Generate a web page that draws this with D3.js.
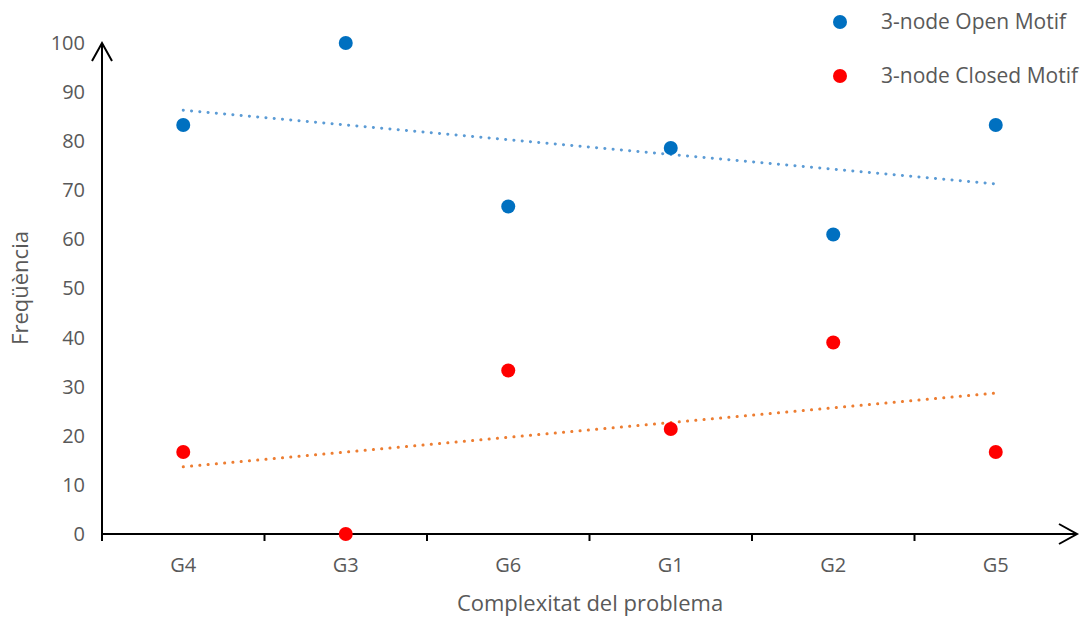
<!DOCTYPE html>
<html>
<head>
<meta charset="utf-8">
<script src="https://cdn.jsdelivr.net/npm/d3@7"></script>
<style>
  body { margin: 0; background: #fff; }
  text { font-family: "Open Sans", "Noto Sans", sans-serif; fill: #595959; }
</style>
</head>
<body>
<svg width="1085" height="619"></svg>
<script>
let categories = ['G4', 'G3', 'G6', 'G1', 'G2', 'G5'];
let openValues = [83.3, 100, 66.7, 78.6, 61, 83.3];
let closedValues = [16.7, 0, 33.3, 21.4, 39, 16.7];
let yTicks = [0, 10, 20, 30, 40, 50, 60, 70, 80, 90, 100];

let svg = d3.select('svg');

let plotLeft = 102, plotRight = 1077, plotTop = 43, plotBottom = 534;

let xScale = d3.scaleBand()
               .domain(categories)
               .range([plotLeft, plotRight]);

let yScale = d3.scaleLinear()
               .domain([0, 100])
               .range([plotBottom, plotTop]);

let cx = (c) => xScale(c) + xScale.bandwidth() / 2;

// linear trendline (least squares, like Excel)
let trend = (vals) => {
    let n = vals.length;
    let xs = vals.map((v, i) => i + 1);
    let mx = d3.mean(xs), my = d3.mean(vals);
    let sxy = d3.sum(vals, (v, i) => (xs[i] - mx) * (v - my));
    let sxx = d3.sum(xs, (x) => (x - mx) * (x - mx));
    let slope = sxy / sxx;
    return [my + slope * (1 - mx), my + slope * (n - mx)];
}

// x axis
let xAxis = d3.axisBottom(xScale).tickSize(0).tickPadding(24);
let gx = svg.append('g')
    .attr('transform', 'translate(0,' + plotBottom + ')')
    .call(xAxis);
gx.select('.domain').remove();
gx.selectAll('text').style('font-size', '20px').style('font-family', null).attr('fill', '#595959');

// band boundary ticks
let bounds = categories.map((c) => xScale(c));
svg.selectAll('.xtick')
    .data(bounds)
    .enter()
    .append('line')
    .attr('x1', (d) => d).attr('x2', (d) => d)
    .attr('y1', plotBottom).attr('y2', plotBottom + 7)
    .attr('stroke', '#000').attr('stroke-width', 2);

// y axis labels
let yAxis = d3.axisLeft(yScale).tickValues(yTicks).tickSize(0).tickPadding(17);
let gy = svg.append('g')
    .attr('transform', 'translate(' + plotLeft + ',0)')
    .call(yAxis);
gy.select('.domain').remove();
gy.selectAll('text').style('font-size', '20px').attr('fill', '#595959');
gx.attr('font-family', null);
gy.attr('font-family', null);

// axis lines with arrows
svg.append('line')
    .attr('x1', plotLeft).attr('x2', plotRight)
    .attr('y1', plotBottom).attr('y2', plotBottom)
    .attr('stroke', '#000').attr('stroke-width', 2);
svg.append('line')
    .attr('x1', plotLeft).attr('x2', plotLeft)
    .attr('y1', plotBottom + 7).attr('y2', plotTop)
    .attr('stroke', '#000').attr('stroke-width', 2);
svg.append('path')
    .attr('d', 'M' + (plotLeft - 10) + ',' + (plotTop + 18) + 'L' + plotLeft + ',' + plotTop + 'L' + (plotLeft + 10) + ',' + (plotTop + 18))
    .attr('fill', 'none').attr('stroke', '#000').attr('stroke-width', 2);
svg.append('path')
    .attr('d', 'M' + (plotRight - 18) + ',' + (plotBottom - 10) + 'L' + plotRight + ',' + plotBottom + 'L' + (plotRight - 18) + ',' + (plotBottom + 10))
    .attr('fill', 'none').attr('stroke', '#000').attr('stroke-width', 2);

// trendlines
let drawTrend = (vals, color) => {
    let t = trend(vals);
    svg.append('line')
        .attr('x1', cx(categories[0])).attr('y1', yScale(t[0]))
        .attr('x2', cx(categories[categories.length - 1])).attr('y2', yScale(t[1]))
        .attr('stroke', color)
        .attr('stroke-width', 3)
        .attr('stroke-linecap', 'round')
        .attr('stroke-dasharray', '0.1 8.2');
}
drawTrend(openValues, '#5B9BD5');
drawTrend(closedValues, '#ED7D31');

// points
let drawPoints = (vals, color) => {
    svg.append('g')
        .selectAll('circle')
        .data(vals)
        .enter()
        .append('circle')
        .attr('cx', (d, i) => cx(categories[i]))
        .attr('cy', (d) => yScale(d))
        .attr('r', 7)
        .attr('fill', color);
}
drawPoints(openValues, '#0070C0');
drawPoints(closedValues, '#FF0000');

// axis titles
svg.append('text')
    .attr('x', 590).attr('y', 611)
    .attr('text-anchor', 'middle')
    .style('font-size', '22px')
    .text('Complexitat del problema');
svg.append('text')
    .attr('transform', 'translate(28,288) rotate(-90)')
    .attr('text-anchor', 'middle')
    .style('font-size', '22px')
    .text('Freqüència');

// legend
let legend = [['3-node Open Motif', '#0070C0'], ['3-node Closed Motif', '#FF0000']];
let lg = svg.selectAll('.legend')
    .data(legend)
    .enter()
    .append('g')
    .attr('transform', (d, i) => 'translate(840,' + (22 + i * 54) + ')');
lg.append('circle').attr('r', 7).attr('fill', (d) => d[1]);
lg.append('text')
    .attr('x', 41).attr('dy', '0.35em')
    .style('font-size', '21px')
    .text((d) => d[0]);
</script>
</body>
</html>
